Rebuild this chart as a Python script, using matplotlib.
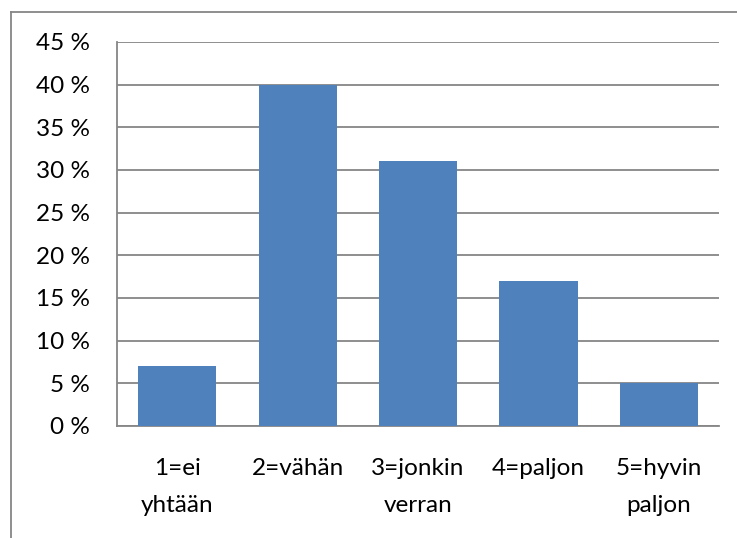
import matplotlib.pyplot as plt
from matplotlib.lines import Line2D

categories = ["1=ei\nyhtään", "2=vähän", "3=jonkin\nverran", "4=paljon", "5=hyvin\npaljon"]
values = [7, 40, 31, 17, 5]
yticks = [0, 5, 10, 15, 20, 25, 30, 35, 40, 45]
ytick_labels = ["%d %%" % t for t in yticks]

plt.rcParams['font.family'] = ['Lato', 'DejaVu Sans']

fig = plt.figure(figsize=(7.37, 5.38), dpi=100)
ax = fig.add_axes([0.1588, 0.2082, 0.8168, 0.7138])

grid_color = "#868686"
x = range(len(categories))
ax.bar(x, values, width=0.65, color="#4F81BD", zorder=3)

ax.set_xlim(-0.5, len(categories) - 0.5)
ax.set_ylim(0, 45)
ax.set_yticks(yticks)
ax.set_yticklabels(ytick_labels, fontsize=17.5)
ax.set_xticks(list(x))
ax.set_xticklabels(categories, fontsize=17.5, linespacing=1.95)
ax.tick_params(axis="both", length=0, colors="black")
ax.tick_params(axis="y", pad=19.5)
ax.tick_params(axis="x", pad=23)
ax.yaxis.grid(True, color=grid_color, linewidth=1.3, zorder=0)

for side in ["top", "right"]:
    ax.spines[side].set_visible(False)
for side in ["left", "bottom"]:
    ax.spines[side].set_color(grid_color)
    ax.spines[side].set_linewidth(1.3)

# chart frame (top and left edges)
fig.add_artist(Line2D([11 / 737, 1.0], [1 - 12 / 538, 1 - 12 / 538],
                      color=grid_color, linewidth=1.3, transform=fig.transFigure))
fig.add_artist(Line2D([11 / 737, 11 / 737], [0, 1 - 12 / 538],
                      color=grid_color, linewidth=1.3, transform=fig.transFigure))

fig.savefig("out.png", dpi=100)
